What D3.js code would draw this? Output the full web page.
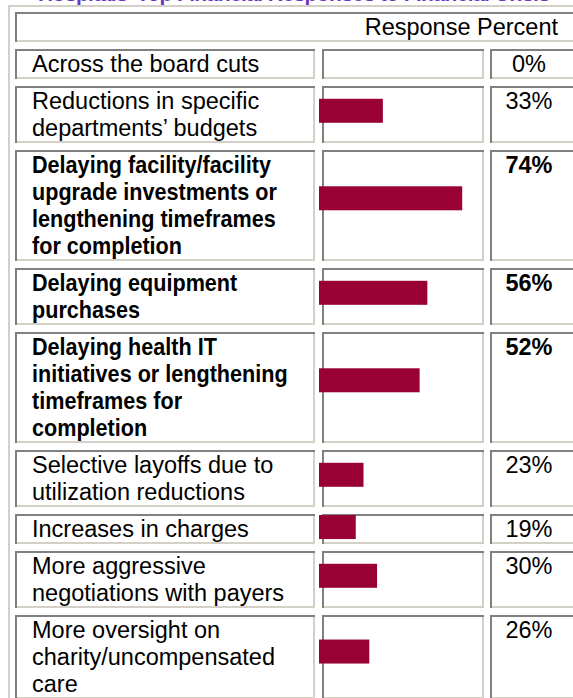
<!DOCTYPE html>
<html>
<head>
<meta charset="utf-8">
<script src="https://cdn.jsdelivr.net/npm/d3@7"></script>
<style>
  body { margin: 0; background: #fff; }
  svg { display: block; font-family: Arial, 'Liberation Sans', sans-serif; }
</style>
</head>
<body>
<svg id="chart"></svg>
<script>
const titleText = 'Hospitals\u2019 Top Financial Responses to Financial Crisis'
const headerText = 'Response Percent'

const labels = [
  ['Across the board cuts'],
  ['Reductions in specific', 'departments\u2019 budgets'],
  ['Delaying facility/facility', 'upgrade investments or', 'lengthening timeframes', 'for completion'],
  ['Delaying equipment', 'purchases'],
  ['Delaying health IT', 'initiatives or lengthening', 'timeframes for', 'completion'],
  ['Selective layoffs due to', 'utilization reductions'],
  ['Increases in charges'],
  ['More aggressive', 'negotiations with payers'],
  ['More oversight on', 'charity/uncompensated', 'care']
]
const values = [0, 33, 74, 56, 52, 23, 19, 30, 26]

const w = 573
const h = 698
const lineH = 27
const gap = 7
const barH = 24
const dark = '#808080'
const light = '#d4d0c8'

const svg = d3.select('#chart')
              .attr('width', w)
              .attr('height', h)

const xScale = d3.scaleLinear()
                 .domain([0, 100])
                 .range([0, 193.5])

// row tops, each row grows with its number of text lines
const rows = []
let y = 49
labels.forEach((lines, i) => {
  const rh = lineH * lines.length + 3
  rows.push({ lines, value: values[i], top: y, height: rh })
  y += rh + gap
})

// title, cut off at the top of the page like in the source screenshot
svg.append('text')
   .attr('x', 38)
   .attr('y', 1)
   .attr('textLength', 512)
   .attr('font-size', 21)
   .attr('font-weight', 'bold')
   .attr('fill', '#6b35c0')
   .text(titleText)

// outer table border
svg.append('path')
   .attr('d', `M9,${h} V6 H${w}`)
   .attr('fill', 'none')
   .attr('stroke', light)
   .attr('stroke-width', 2)

function cell(x0, y0, cw, ch) {
  const g = svg.append('g')
  g.append('rect')
   .attr('x', x0).attr('y', y0)
   .attr('width', cw).attr('height', ch)
   .attr('fill', '#fff')
  g.append('path')
   .attr('d', `M${x0 + 1},${y0 + ch} V${y0 + 1} H${x0 + cw}`)
   .attr('fill', 'none').attr('stroke', dark).attr('stroke-width', 2)
  g.append('path')
   .attr('d', `M${x0 + 2},${y0 + ch - 1} H${x0 + cw - 1} V${y0 + 2}`)
   .attr('fill', 'none').attr('stroke', light).attr('stroke-width', 2)
  return g
}

// header
cell(15, 12, 600, 30)
svg.append('text')
   .attr('x', 558)
   .attr('y', 35)
   .attr('text-anchor', 'end')
   .attr('font-size', 23.5)
   .attr('fill', '#000')
   .text(headerText)

const labelX = 15, labelW = 300
const barX = 322, barW = 162
const pctX = 490, pctW = 120

rows.forEach(r => {
  cell(labelX, r.top, labelW, r.height)
  cell(barX, r.top, barW, r.height)
  cell(pctX, r.top, pctW, r.height)
})

const rowG = svg.selectAll('g.row')
                .data(rows)
                .enter()
                .append('g')
                .attr('class', 'row')
                .attr('font-size', 23.5)
                .attr('font-weight', d => d.value > 50 ? 'bold' : 'normal')

// bold labels are a bit condensed in the original
rowG.append('text')
    .attr('x', 32)
    .attr('y', d => d.top + 23)
    .attr('transform', d => d.value > 50 ? 'translate(32,0) scale(0.92,1) translate(-32,0)' : null)
    .selectAll('tspan')
    .data(d => d.lines)
    .enter()
    .append('tspan')
      .attr('x', 32)
      .attr('dy', (_, i) => i === 0 ? 0 : lineH)
      .text(d => d)

rowG.filter(d => d.value > 0)
    .append('rect')
    .attr('class', 'bar')
    .attr('x', barX - 3)
    .attr('y', d => d.top + d.height * 0.435 - barH / 2)
    .attr('width', d => xScale(d.value))
    .attr('height', barH)
    .attr('fill', '#990033')

rowG.append('text')
    .attr('x', 529)
    .attr('y', d => d.top + 23)
    .attr('text-anchor', 'middle')
    .text(d => d.value + '%')
</script>
</body>
</html>
